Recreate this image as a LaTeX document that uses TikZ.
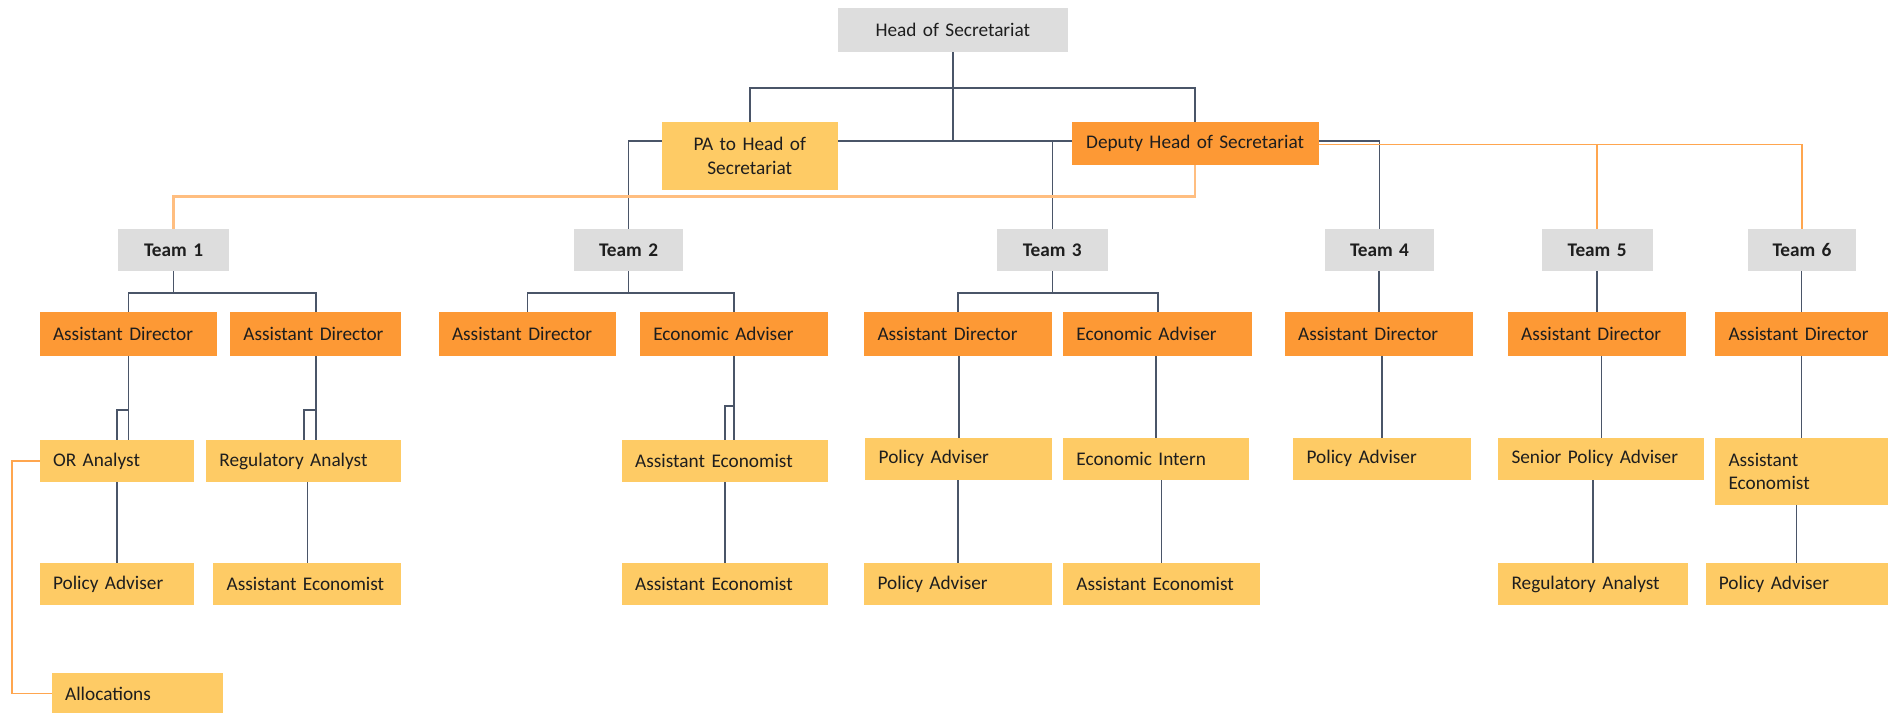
\documentclass[tikz,border=0pt]{standalone}
\usepackage{fontspec}
\setmainfont{Carlito}
\usetikzlibrary{backgrounds}
\definecolor{gbox}{HTML}{DDDDDD}
\definecolor{dor}{HTML}{FD9935}
\definecolor{lor}{HTML}{FECB65}
\definecolor{gline}{HTML}{4A5568}
\definecolor{oline}{HTML}{FFA64F}
\definecolor{oline2}{HTML}{FFBE80}
\definecolor{txt}{HTML}{1E1E1E}
\newcommand\orgbox[7]{%
  \pgfmathsetmacro\obw{#5-#3-22}%
  \pgfmathsetmacro\obh{#6-#4}%
  \node[#1, text width=\obw pt, minimum height=\obh pt] (#2) at (#3,#4) {#7};}
\begin{document}
\begin{tikzpicture}[x=1pt,y=-1pt,
  base/.style={anchor=north west, inner ysep=0pt, inner xsep=11pt, outer sep=0pt,
    text=txt, font=\fontsize{16}{19.5}\selectfont},
  lft/.style={base, align=left},
  ctr/.style={base, align=center},
  gbx/.style={ctr, fill=gbox},
  tbx/.style={ctr, fill=gbox, font=\fontsize{16}{19.5}\selectfont\bfseries},
  dbx/.style={lft, fill=dor},
  dcx/.style={ctr, fill=dor},
  lbx/.style={lft, fill=lor},
  lcx/.style={ctr, fill=lor},
  gl/.style={draw=gline, line width=1.3pt},
  ol/.style={draw=oline, line width=1.3pt}]
\useasboundingbox (0,0) rectangle (1568,591);
% top
\orgbox{gbx}{head}{695}{7}{886}{43}{Head of Secretariat}
\orgbox{lcx}{pa}{549}{101}{695}{158}{PA to Head of\\Secretariat}
\orgbox{dcx}{dep}{889}{101}{1094}{137}{Deputy Head of Secretariat}
% teams
\orgbox{tbx}{t1}{98}{190}{190}{225}{Team 1}
\orgbox{tbx}{t2}{476}{190}{567}{225}{Team 2}
\orgbox{tbx}{t3}{827}{190}{919}{225}{Team 3}
\orgbox{tbx}{t4}{1099}{190}{1190}{225}{Team 4}
\orgbox{tbx}{t5}{1279}{190}{1371}{225}{Team 5}
\orgbox{tbx}{t6}{1450}{190}{1540}{225}{Team 6}
% row 2
\orgbox{dbx}{a11}{33}{259}{180}{295}{Assistant Director}
\orgbox{dbx}{a12}{191}{259}{333}{295}{Assistant Director}
\orgbox{dbx}{a21}{364}{259}{511}{295}{Assistant Director}
\orgbox{dbx}{e2}{531}{259}{687}{295}{Economic Adviser}
\orgbox{dbx}{a31}{717}{259}{873}{295}{Assistant Director}
\orgbox{dbx}{e3}{882}{259}{1039}{295}{Economic Adviser}
\orgbox{dbx}{a4}{1066}{259}{1222}{295}{Assistant Director}
\orgbox{dbx}{a5}{1251}{259}{1399}{295}{Assistant Director}
\orgbox{dbx}{a6}{1423}{259}{1566}{295}{Assistant Director}
% row 3
\orgbox{lbx}{or}{33}{365}{161}{400}{OR Analyst}
\orgbox{lbx}{ra1}{171}{365}{333}{400}{Regulatory Analyst}
\orgbox{lbx}{ae2a}{516}{365}{687}{400}{Assistant Economist}
\orgbox{lbx}{pa3a}{718}{363}{873}{398}{Policy Adviser}
\orgbox{lbx}{ei}{882}{363}{1036}{398}{Economic Intern}
\orgbox{lbx}{pa4}{1073}{363}{1220}{398}{Policy Adviser}
\orgbox{lbx}{spa}{1243}{363}{1414}{398}{Senior Policy Adviser}
\orgbox{lbx}{ae6}{1423}{363}{1566}{419}{Assistant\\Economist}
% row 4
\orgbox{lbx}{pa1}{33}{467}{161}{502}{Policy Adviser}
\orgbox{lbx}{ae1}{177}{467}{333}{502}{Assistant Economist}
\orgbox{lbx}{ae2b}{516}{467}{687}{502}{Assistant Economist}
\orgbox{lbx}{pa3b}{717}{467}{873}{502}{Policy Adviser}
\orgbox{lbx}{ae3}{882}{467}{1045}{502}{Assistant Economist}
\orgbox{lbx}{ra5}{1243}{467}{1400}{502}{Regulatory Analyst}
\orgbox{lbx}{pa6}{1415}{467}{1566}{502}{Policy Adviser}
% allocations
\orgbox{lbx}{alloc}{43}{558}{185}{593}{Allocations}
\begin{scope}[on background layer]
\fill[white] (0,0) rectangle (1568,591);
% from head
\draw[gl] (pa.north) -- (pa.north |- 0,73) -- (dep.north |- 0,73) -- (dep.north);
\draw[gl] (head.south) -- (head.south |- 0,117);
\draw[gl] (t2.north) -- (t2.north |- 0,117) -- (t4.north |- 0,117) -- (t4.north);
\draw[gl] (t3.north |- 0,117) -- (t3.north);
% from deputy (orange)
\draw[ol, draw=oline2, line width=1.8pt] (dep.south) -- (dep.south |- 0,163) -- (t1.north |- 0,163) -- (t1.north);
\draw[ol] (dep.east |- 0,120) -- (t6.north |- 0,120) -- (t6.north);
\draw[ol] (t5.north |- 0,120) -- (t5.north);
% team bars
\draw[gl] (t1.south) -- (t1.south |- 0,243);
\draw[gl] (a11.north) -- (a11.north |- 0,243) -- (a12.north |- 0,243) -- (a12.north);
\draw[gl] (t2.south) -- (t2.south |- 0,243);
\draw[gl] (a21.north) -- (a21.north |- 0,243) -- (e2.north |- 0,243) -- (e2.north);
\draw[gl] (t3.south) -- (t3.south |- 0,243);
\draw[gl] (a31.north) -- (a31.north |- 0,243) -- (e3.north |- 0,243) -- (e3.north);
\draw[gl] (a4.north |- t4.south) -- (a4.north);
\draw[gl] (a5.north |- t5.south) -- (a5.north);
\draw[gl] (a6.north |- t6.south) -- (a6.north);
% AD to row 3
\draw[gl] (a11.south) -- (a11.south |- or.north);
\draw[gl] (a11.south |- 0,340) -| (or.north);
\draw[gl] (a12.south) -- (a12.south |- ra1.north);
\draw[gl] (a12.south |- 0,340) -| (ra1.north);
\draw[gl] (e2.south) -- (e2.south |- ae2a.north);
\draw[gl] (e2.south |- 0,337) -| (ae2a.north);
\draw[gl] (pa3a.north |- a31.south) -- (pa3a.north);
\draw[gl] (ei.north |- e3.south) -- (ei.north);
\draw[gl] (pa4.north |- a4.south) -- (pa4.north);
\draw[gl] (spa.north |- a5.south) -- (spa.north);
\draw[gl] (ae6.north |- a6.south) -- (ae6.north);
% row 3 to row 4
\draw[gl] (pa1.north |- or.south) -- (pa1.north);
\draw[gl] (ae1.north |- ra1.south) -- (ae1.north);
\draw[gl] (ae2b.north |- ae2a.south) -- (ae2b.north);
\draw[gl] (pa3b.north |- pa3a.south) -- (pa3b.north);
\draw[gl] (ae3.north |- ei.south) -- (ae3.north);
\draw[gl] (ra5.north |- spa.south) -- (ra5.north);
\draw[gl] (pa6.north |- ae6.south) -- (pa6.north);
% allocations
\draw[ol, line width=1pt] (or.west) -- (or.west -| 10,0) |- (alloc.west);
\end{scope}
\end{tikzpicture}
\end{document}
